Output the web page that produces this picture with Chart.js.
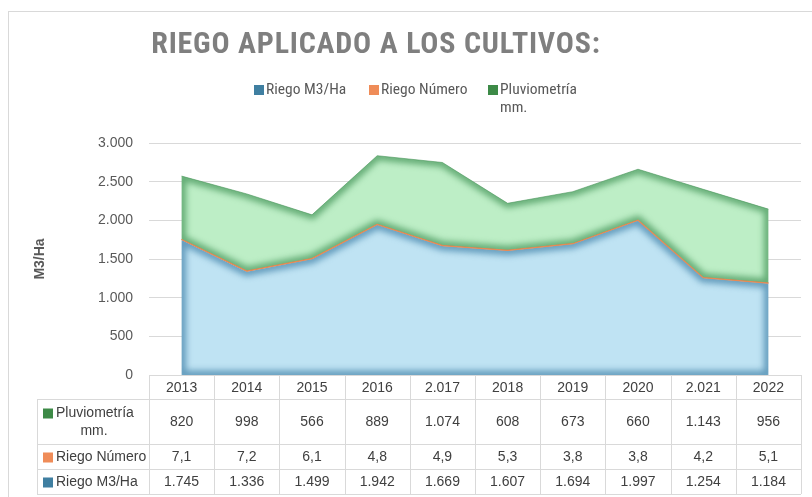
<!DOCTYPE html>
<html>
<head>
<meta charset="utf-8">
<script src="https://cdn.jsdelivr.net/npm/chart.js@4"></script>
<style>
  html, body { margin: 0; padding: 0; background: #fff; }
  #wrap { width: 812px; height: 497px; position: relative; }
</style>
</head>
<body>
<div id="wrap"><canvas id="chart" width="812" height="497"></canvas></div>
<script>
// data
const years = ['2013', '2014', '2015', '2016', '2.017', '2018', '2019', '2020', '2.021', '2022'];
const riegoM3 = [1745, 1336, 1499, 1942, 1669, 1607, 1694, 1997, 1254, 1184];
const riegoNumero = [7.1, 7.2, 6.1, 4.8, 4.9, 5.3, 3.8, 3.8, 4.2, 5.1];
const pluviometria = [820, 998, 566, 889, 1074, 608, 673, 660, 1143, 956];
const seriesNames = ['Riego M3/Ha', 'Riego Número', 'Pluviometría mm.'];
const seriesDecimals = [0, 1, 0];
const yTicks = [0, 500, 1000, 1500, 2000, 2500, 3000];

const swatch = ['#3f7fa1', '#ef8c58', '#3d8a47'];
const NARROW = '"Roboto Condensed", "Liberation Sans Narrow", "Arial Narrow", sans-serif';
const SANS = '"Liberation Sans", Arial, sans-serif';

function fmt(v, dec) {
    let s = v.toFixed(dec);
    let [ip, fp] = s.split('.');
    ip = ip.replace(/\B(?=(\d{3})+(?!\d))/g, '.');
    return fp ? ip + ',' + fp : ip;
}

function wrapWords(ctx, text, maxW) {
    const words = text.split(' ');
    const lines = [];
    let cur = '';
    words.forEach(w => {
        const test = cur ? cur + ' ' + w : w;
        if (cur && ctx.measureText(test).width > maxW) {
            lines.push(cur);
            cur = w;
        } else {
            cur = test;
        }
    });
    if (cur) lines.push(cur);
    return lines;
}

// soft darker edge inside each area, like the office "glow" effect
function innerGlow(ctx, pts, color, width, blur) {
    ctx.save();
    ctx.beginPath();
    pts.forEach((p, i) => i ? ctx.lineTo(p.x, p.y) : ctx.moveTo(p.x, p.y));
    ctx.closePath();
    ctx.clip();
    ctx.filter = 'blur(' + blur + 'px)';
    ctx.strokeStyle = color;
    ctx.lineWidth = width;
    ctx.lineJoin = 'round';
    ctx.stroke();
    ctx.restore();
}

const glowPlugin = {
    id: 'glow',
    afterDatasetsDraw(chart) {
        const ctx = chart.ctx;
        const bottom = chart.scales.y.getPixelForValue(0);
        const p0 = chart.getDatasetMeta(0).data.map(e => ({ x: e.x, y: e.y }));
        const p1 = chart.getDatasetMeta(1).data.map(e => ({ x: e.x, y: e.y }));
        const p2 = chart.getDatasetMeta(2).data.map(e => ({ x: e.x, y: e.y }));

        const bluePoly = [{ x: p0[0].x, y: bottom }].concat(p0, [{ x: p0[p0.length - 1].x, y: bottom }]);
        innerGlow(ctx, bluePoly, 'rgba(60,125,165,0.7)', 9, 3);

        const greenPoly = p2.concat(p1.slice().reverse());
        innerGlow(ctx, greenPoly, 'rgba(70,150,90,0.75)', 9, 3);

        // orange boundary line back on top
        ctx.save();
        ctx.beginPath();
        p1.forEach((p, i) => i ? ctx.lineTo(p.x, p.y) : ctx.moveTo(p.x, p.y));
        ctx.strokeStyle = '#e98a55';
        ctx.lineWidth = 1.2;
        ctx.stroke();
        ctx.restore();
    }
};

// title, legend, frame and the data table under the plot
const decorPlugin = {
    id: 'decor',
    afterDraw(chart) {
        const ctx = chart.ctx;
        const area = chart.chartArea;
        const xs = chart.scales.x;
        ctx.save();

        // outer frame
        ctx.strokeStyle = '#d9d9d9';
        ctx.lineWidth = 1;
        ctx.strokeRect(8.5, 11.5, 830, 520);

        // title
        ctx.fillStyle = '#7f7f7f';
        ctx.font = 'bold 30px ' + NARROW;
        ctx.letterSpacing = '0.8px';
        ctx.textAlign = 'center';
        ctx.textBaseline = 'alphabetic';
        ctx.fillText('RIEGO APLICADO A LOS CULTIVOS:', 376, 53);
        ctx.letterSpacing = '0px';

        // legend
        ctx.font = '15.5px ' + NARROW;
        ctx.textAlign = 'left';
        ctx.textBaseline = 'middle';
        const legX = [254, 369, 488];
        const legMax = [100, 100, 85];
        seriesNames.forEach((name, i) => {
            ctx.fillStyle = swatch[i];
            ctx.fillRect(legX[i], 85, 10, 10);
            ctx.fillStyle = '#595959';
            const lines = wrapWords(ctx, name, legMax[i]);
            lines.forEach((ln, j) => ctx.fillText(ln, legX[i] + 12, 90 + j * 18));
        });

        // data table
        const n = years.length;
        const colW = (area.right - area.left) / n;
        const rowY = [area.bottom, 399, 444, 469, 494];
        const labelLeft = 37;
        ctx.strokeStyle = '#d9d9d9';
        ctx.lineWidth = 1;
        ctx.beginPath();
        ctx.moveTo(area.left, Math.round(rowY[0]) + 0.5);
        ctx.lineTo(area.right, Math.round(rowY[0]) + 0.5);
        for (let r = 1; r < rowY.length; r++) {
            ctx.moveTo(labelLeft, rowY[r] + 0.5);
            ctx.lineTo(area.right, rowY[r] + 0.5);
        }
        for (let c = 0; c <= n; c++) {
            const x = Math.round(area.left + c * colW) + 0.5;
            ctx.moveTo(x, Math.round(rowY[0]));
            ctx.lineTo(x, rowY[4]);
        }
        ctx.moveTo(labelLeft + 0.5, rowY[1]);
        ctx.lineTo(labelLeft + 0.5, rowY[4]);
        ctx.stroke();

        ctx.font = '14px ' + SANS;
        ctx.fillStyle = '#404040';
        ctx.textAlign = 'center';
        ctx.textBaseline = 'middle';
        years.forEach((y, i) => {
            ctx.fillText(y, xs.getPixelForValue(i), (rowY[0] + rowY[1]) / 2 + 1);
        });

        // rows top to bottom: last series first
        const rows = [
            { idx: 2, data: pluviometria },
            { idx: 1, data: riegoNumero },
            { idx: 0, data: riegoM3 }
        ];
        rows.forEach((row, r) => {
            const yMid = (rowY[r + 1] + rowY[r + 2]) / 2 + 1;
            row.data.forEach((v, i) => {
                ctx.fillText(fmt(v, seriesDecimals[row.idx]), xs.getPixelForValue(i), yMid);
            });
            const lines = wrapWords(ctx, seriesNames[row.idx], 92);
            const cx = (labelLeft + area.left) / 2 + 1;
            const lh = 18;
            const y0 = yMid - (lines.length - 1) * lh / 2;
            lines.forEach((ln, j) => {
                const yy = y0 + j * lh;
                if (j === 0) {
                    ctx.fillStyle = swatch[row.idx];
                    ctx.fillRect(43, yy - 5, 10, 10);
                    ctx.fillStyle = '#404040';
                    ctx.textAlign = 'left';
                    ctx.fillText(ln, 56, yy);
                    ctx.textAlign = 'center';
                } else {
                    ctx.fillText(ln, cx, yy);
                }
            });
        });
        ctx.restore();
    }
};

const canvas = document.getElementById('chart');
new Chart(canvas, {
    type: 'line',
    data: {
        labels: years,
        datasets: [
            {
                label: seriesNames[0],
                data: riegoM3,
                fill: 'origin',
                backgroundColor: '#bfe3f3',
                borderWidth: 0
            },
            {
                label: seriesNames[1],
                data: riegoNumero,
                fill: '-1',
                backgroundColor: '#ef8c58',
                borderColor: '#e8834f',
                borderWidth: 1
            },
            {
                label: seriesNames[2],
                data: pluviometria,
                fill: '-1',
                backgroundColor: '#bdeec6',
                borderColor: 'rgba(80,150,95,0.6)',
                borderWidth: 1
            }
        ]
    },
    options: {
        responsive: false,
        animation: false,
        devicePixelRatio: 1,
        layout: { padding: { left: 30, right: 11, top: 143, bottom: 122 } },
        elements: { point: { radius: 0 }, line: { tension: 0 } },
        plugins: {
            legend: { display: false },
            title: { display: false },
            tooltip: { enabled: false }
        },
        scales: {
            x: {
                type: 'category',
                display: false,
                offset: true
            },
            y: {
                stacked: true,
                min: 0,
                max: 3000,
                afterFit: s => { s.width = 119; },
                afterBuildTicks: s => { s.ticks = yTicks.map(v => ({ value: v })); },
                border: { display: false },
                grid: { color: '#d9d9d9', drawTicks: false },
                ticks: {
                    padding: 16,
                    color: '#595959',
                    font: { family: SANS, size: 14 },
                    callback: v => fmt(v, 0)
                },
                title: {
                    display: true,
                    text: 'M3/Ha',
                    color: '#595959',
                    font: { family: SANS, size: 14, weight: 'bold' },
                    padding: { top: 2, bottom: 0 }
                }
            }
        }
    },
    plugins: [glowPlugin, decorPlugin]
});
</script>
</body>
</html>
